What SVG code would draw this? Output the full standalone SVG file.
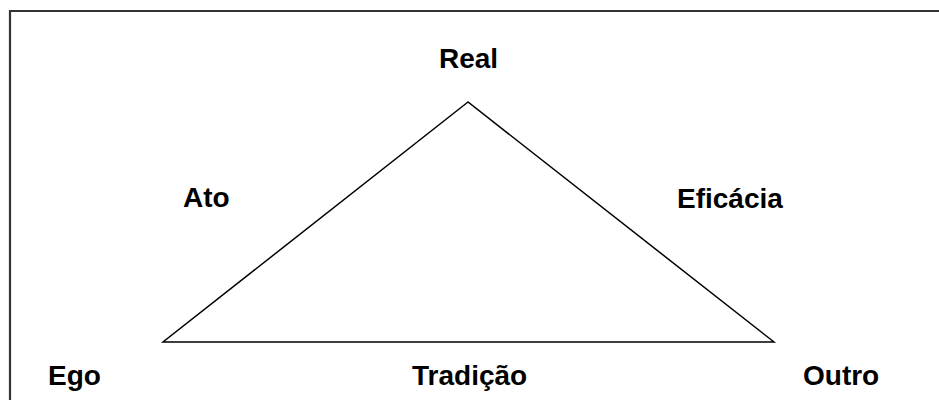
<svg xmlns="http://www.w3.org/2000/svg" width="939" height="400" viewBox="0 0 939 400">
<style>
.lbl{font-family:"Liberation Sans",Arial,sans-serif;font-weight:bold;font-size:28px;fill:#000}
.edge{fill:none;stroke:#000;stroke-width:1.5}
</style>
<rect x="0" y="0" width="939" height="400" fill="#fff"/>
<path d="M10,401 V11 H940" fill="none" stroke="#333" stroke-width="2.2"/>
<g id="connectors">
<polygon class="edge" points="468,102 163,342 774,342"/>
</g>
<g id="node-real"><text class="lbl" x="439" y="68">Real</text></g>
<g id="node-ato"><text class="lbl" x="183" y="207">Ato</text></g>
<g id="node-eficacia"><text class="lbl" x="677" y="208">Eficácia</text></g>
<g id="node-ego"><text class="lbl" x="48" y="385">Ego</text></g>
<g id="node-tradicao"><text class="lbl" x="412" y="385">Tradição</text></g>
<g id="node-outro"><text class="lbl" x="803" y="385">Outro</text></g>
</svg>
